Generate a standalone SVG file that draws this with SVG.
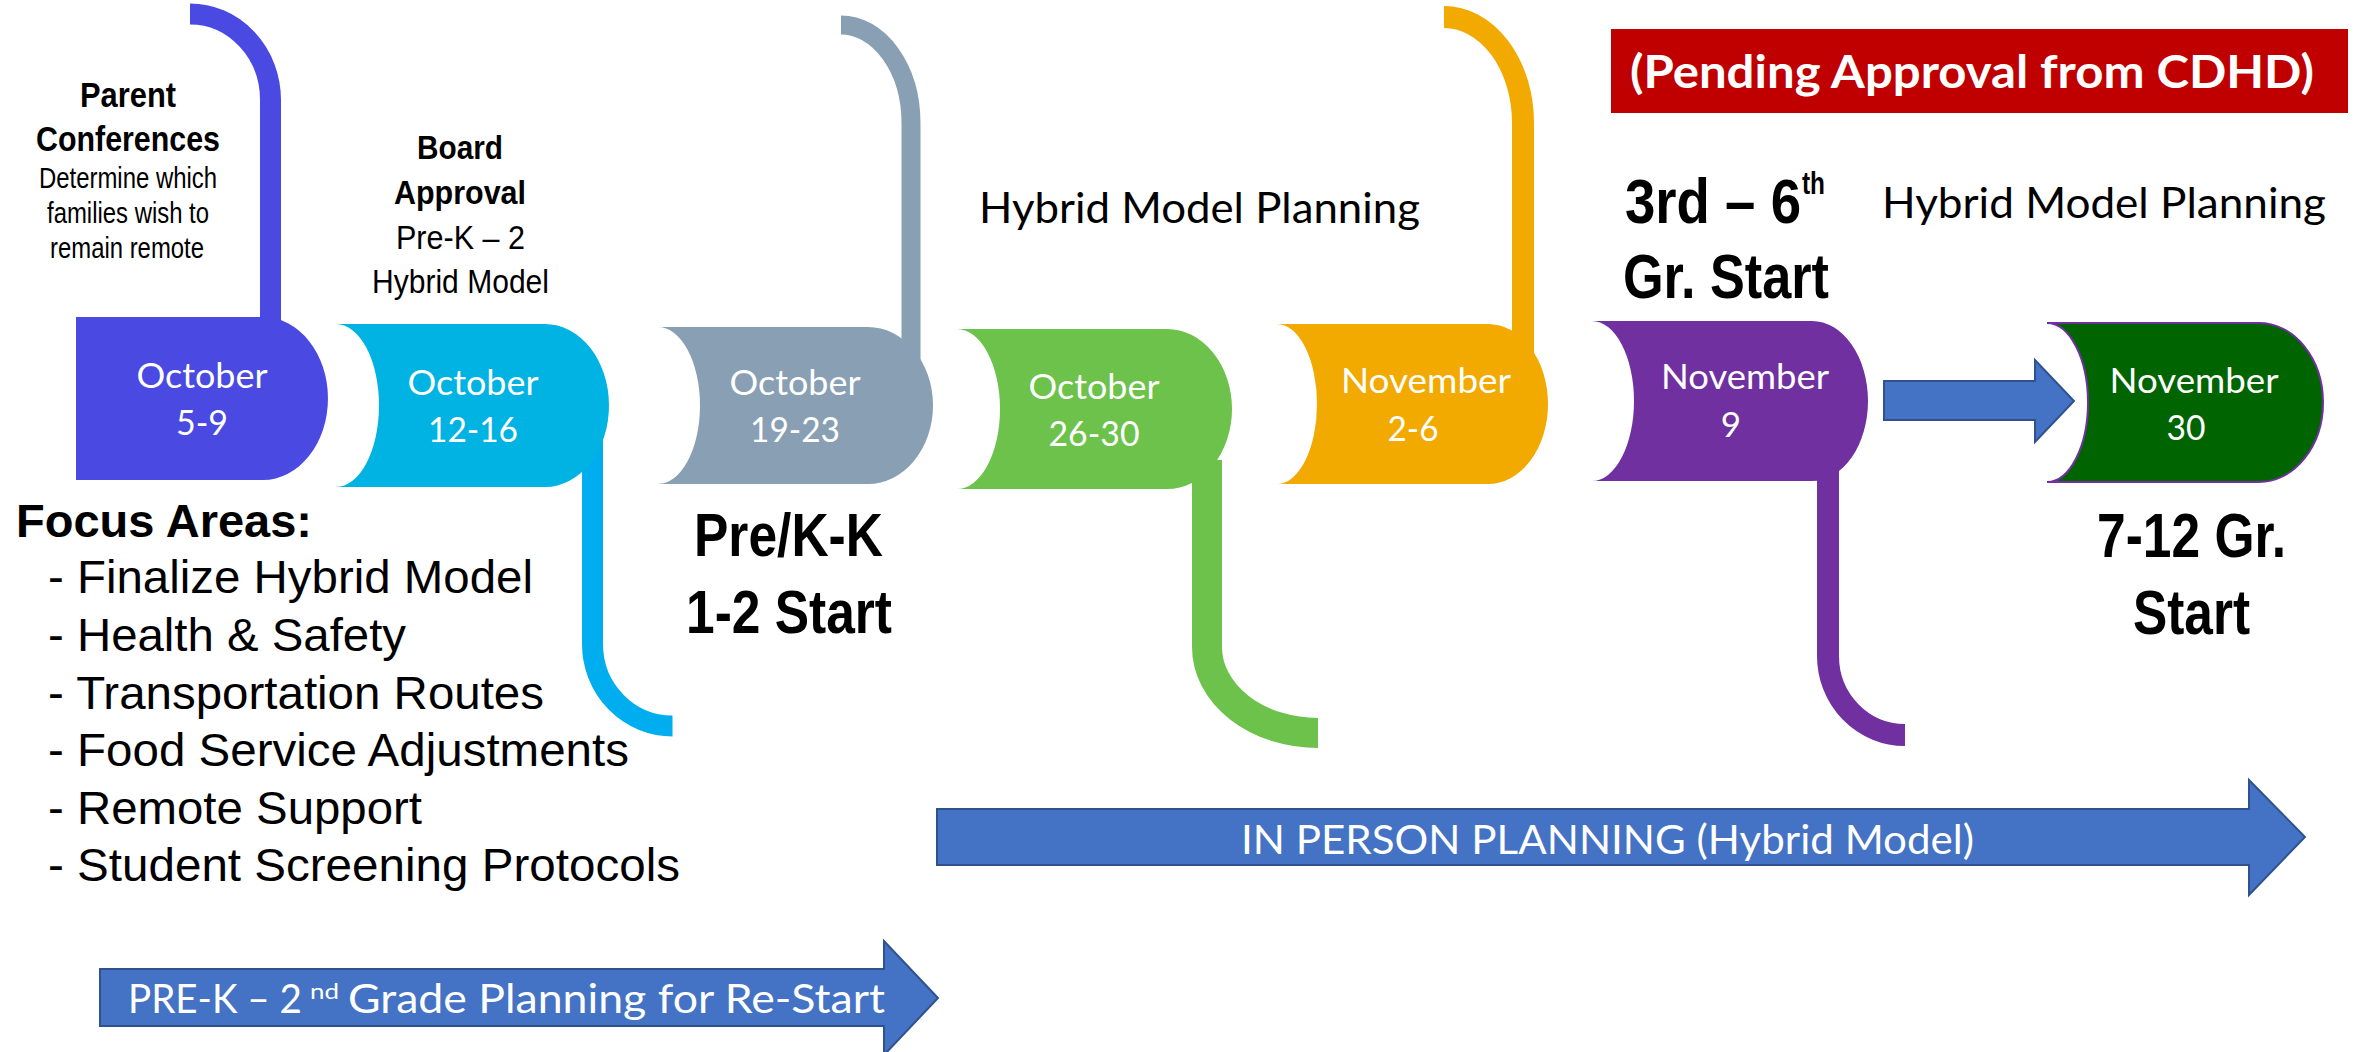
<svg xmlns="http://www.w3.org/2000/svg" width="2364" height="1052" viewBox="0 0 2364 1052">
<style>
.nt{font-family:Lato,'Open Sans',sans-serif;fill:#fff;font-size:35px;text-anchor:middle}
.cal{font-family:Lato,'Open Sans',sans-serif;fill:#000;font-size:42px}
.calw{font-family:Lato,'Open Sans',sans-serif;fill:#fff;font-size:40px}
.nb{font-family:'Liberation Sans Narrow','Liberation Sans',Arial,sans-serif;font-weight:bold;fill:#000}
.nr{font-family:'Liberation Sans Narrow','Liberation Sans',Arial,sans-serif;fill:#000}
.ar{font-family:'Liberation Sans',Arial,sans-serif;fill:#000;font-size:47px}
.stalk{fill:none;stroke-linecap:butt}
.arrow{fill:#4472C4;stroke:#2F528F;stroke-width:2}
</style>
<rect width="2364" height="1052" fill="#fff"/>

<g id="node-oct-5-9">
  <path class="stalk" d="M270.5 330 V100 A80.5 86 0 0 0 190 14" stroke="#4A4AE3" stroke-width="21"/>
  <path d="M76 317 H263 A65 81.5 0 0 1 263 480 H76 Z" fill="#4A4AE3"/>
  <text class="nt" x="202" y="388" textLength="131" lengthAdjust="spacingAndGlyphs">October</text>
  <text class="nt" x="202" y="435" textLength="52" lengthAdjust="spacingAndGlyphs">5-9</text>
</g>

<g id="node-oct-12-16">
  <path class="stalk" d="M592.5 440 V644 A80 82 0 0 0 672.5 726" stroke="#00AEEF" stroke-width="21"/>
  <path d="M336 324 H545 A64 81.5 0 0 1 545 487 H336 A43 81.5 0 0 0 336 324 Z" fill="#00B3E3"/>
  <text class="nt" x="473" y="395" textLength="131" lengthAdjust="spacingAndGlyphs">October</text>
  <text class="nt" x="473" y="442" textLength="90" lengthAdjust="spacingAndGlyphs">12-16</text>
</g>

<g id="node-oct-19-23">
  <path class="stalk" d="M911 360 V123 A70 98 0 0 0 841 25" stroke="#889FB4" stroke-width="19"/>
  <path d="M658 327 H868 A65 78.5 0 0 1 868 484 H658 A42 78.5 0 0 0 658 327 Z" fill="#889FB4"/>
  <text class="nt" x="795" y="395" textLength="131" lengthAdjust="spacingAndGlyphs">October</text>
  <text class="nt" x="795" y="442" textLength="90" lengthAdjust="spacingAndGlyphs">19-23</text>
</g>

<g id="node-oct-26-30">
  <path class="stalk" d="M1207 460 V647 A111 86 0 0 0 1318 733" stroke="#6CC24A" stroke-width="30"/>
  <path d="M957 329 H1167 A65 80 0 0 1 1167 489 H957 A43 80 0 0 0 957 329 Z" fill="#6CC24A"/>
  <text class="nt" x="1094" y="399" textLength="131" lengthAdjust="spacingAndGlyphs">October</text>
  <text class="nt" x="1094" y="446" textLength="91" lengthAdjust="spacingAndGlyphs">26-30</text>
</g>

<g id="node-nov-2-6">
  <path class="stalk" d="M1523 360 V123 A79 106 0 0 0 1444 17" stroke="#F2A900" stroke-width="22"/>
  <path d="M1277 324 H1488 A60 80 0 0 1 1488 484 H1277 A40 80 0 0 0 1277 324 Z" fill="#F2A900"/>
  <text class="nt" x="1426" y="393" textLength="170" lengthAdjust="spacingAndGlyphs">November</text>
  <text class="nt" x="1413" y="441" textLength="51" lengthAdjust="spacingAndGlyphs">2-6</text>
</g>

<g id="node-nov-9">
  <path class="stalk" d="M1828 460 V656 A77 79 0 0 0 1905 735" stroke="#7030A0" stroke-width="22"/>
  <path d="M1592 321 H1812 A56 80 0 0 1 1812 481 H1592 A42 80 0 0 0 1592 321 Z" fill="#7030A0"/>
  <text class="nt" x="1745" y="389" textLength="168" lengthAdjust="spacingAndGlyphs">November</text>
  <text class="nt" x="1731" y="437">9</text>
</g>

<g id="node-nov-30">
  <path d="M2047 323 H2259 A64 79.5 0 0 1 2259 482 H2047 A41 79.5 0 0 0 2047 323 Z" fill="#006400" stroke="#7030A0" stroke-width="2"/>
  <text class="nt" x="2194" y="393" textLength="169" lengthAdjust="spacingAndGlyphs">November</text>
  <text class="nt" x="2186" y="440" textLength="39" lengthAdjust="spacingAndGlyphs">30</text>
</g>

<g id="connectors">
  <polygon class="arrow" points="1884,381 2035,381 2035,360 2074,401 2035,442 2035,420 1884,420"/>
  <polygon class="arrow" points="937,809 2249,809 2249,780 2305,837 2249,895 2249,865 937,865"/>
  <polygon class="arrow" points="100,969 884,969 884,941 938,998 884,1055 884,1026 100,1026"/>
</g>

<g id="arrow-labels">
  <text class="calw" x="1241" y="854" font-size="42" textLength="733" lengthAdjust="spacingAndGlyphs">IN PERSON PLANNING (Hybrid Model)</text>
  <text class="calw" font-size="39"><tspan x="128" y="1013" textLength="174" lengthAdjust="spacingAndGlyphs">PRE-K – 2</tspan><tspan x="310" y="999" font-size="21" textLength="29" lengthAdjust="spacingAndGlyphs">nd</tspan><tspan x="348" y="1013" textLength="537" lengthAdjust="spacingAndGlyphs">Grade Planning for Re-Start</tspan></text>
</g>

<g id="pending-box">
  <rect x="1611" y="29" width="737" height="84" fill="#C00000"/>
  <text x="1630" y="88" font-family="Lato,'Open Sans',sans-serif" font-weight="bold" font-size="46" fill="#fff" textLength="684" lengthAdjust="spacingAndGlyphs">(Pending Approval from CDHD)</text>
</g>

<g id="labels">
  <text class="nb" x="80" y="107" font-size="35" textLength="96" lengthAdjust="spacingAndGlyphs">Parent</text>
  <text class="nb" x="36" y="151" font-size="35" textLength="184" lengthAdjust="spacingAndGlyphs">Conferences</text>
  <text class="nr" x="39" y="188" font-size="29" textLength="178" lengthAdjust="spacingAndGlyphs">Determine which</text>
  <text class="nr" x="47" y="223" font-size="29" textLength="162" lengthAdjust="spacingAndGlyphs">families wish to</text>
  <text class="nr" x="50" y="258" font-size="29" textLength="154" lengthAdjust="spacingAndGlyphs">remain remote</text>

  <text class="nb" x="417" y="159" font-size="34" textLength="86" lengthAdjust="spacingAndGlyphs">Board</text>
  <text class="nb" x="394" y="204" font-size="34" textLength="132" lengthAdjust="spacingAndGlyphs">Approval</text>
  <text class="nr" x="396" y="249" font-size="33" textLength="129" lengthAdjust="spacingAndGlyphs">Pre-K – 2</text>
  <text class="nr" x="372" y="293" font-size="33" textLength="177" lengthAdjust="spacingAndGlyphs">Hybrid Model</text>

  <text class="cal" x="979" y="223" textLength="441" lengthAdjust="spacingAndGlyphs">Hybrid Model Planning</text>
  <text class="cal" x="1882" y="218" textLength="444" lengthAdjust="spacingAndGlyphs">Hybrid Model Planning</text>

  <text class="nb" font-size="63"><tspan x="1625" y="223" textLength="176" lengthAdjust="spacingAndGlyphs">3rd – 6</tspan><tspan x="1802" y="194" font-size="31" textLength="23" lengthAdjust="spacingAndGlyphs">th</tspan></text>
  <text class="nb" x="1623" y="298" font-size="63" textLength="206" lengthAdjust="spacingAndGlyphs">Gr. Start</text>

  <text class="nb" x="694" y="556" font-size="62" textLength="189" lengthAdjust="spacingAndGlyphs">Pre/K-K</text>
  <text class="nb" x="686" y="633" font-size="62" textLength="206" lengthAdjust="spacingAndGlyphs">1-2 Start</text>

  <text class="nb" x="2097" y="557" font-size="63" textLength="189" lengthAdjust="spacingAndGlyphs">7-12 Gr.</text>
  <text class="nb" x="2133" y="634" font-size="63" textLength="117" lengthAdjust="spacingAndGlyphs">Start</text>
</g>

<g id="focus-areas">
  <text x="16" y="537" font-family="'Liberation Sans',Arial,sans-serif" font-weight="bold" font-size="46" fill="#000" textLength="296" lengthAdjust="spacingAndGlyphs">Focus Areas:</text>
  <text class="ar" x="48" y="593" textLength="485" lengthAdjust="spacingAndGlyphs">- Finalize Hybrid Model</text>
  <text class="ar" x="48" y="651" textLength="358" lengthAdjust="spacingAndGlyphs">- Health &amp; Safety</text>
  <text class="ar" x="48" y="709" textLength="496" lengthAdjust="spacingAndGlyphs">- Transportation Routes</text>
  <text class="ar" x="48" y="766" textLength="581" lengthAdjust="spacingAndGlyphs">- Food Service Adjustments</text>
  <text class="ar" x="48" y="824" textLength="374" lengthAdjust="spacingAndGlyphs">- Remote Support</text>
  <text class="ar" x="48" y="881" textLength="632" lengthAdjust="spacingAndGlyphs">- Student Screening Protocols</text>
</g>
</svg>
